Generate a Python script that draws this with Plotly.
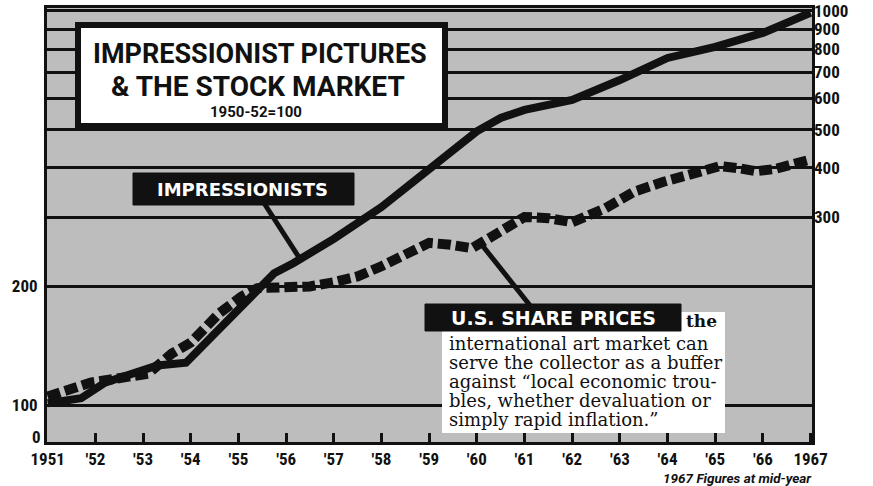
import plotly.graph_objects as go

# ---------------- data ----------------
imp_years = [1951.0, 1951.7, 1952.2, 1952.95, 1953.3, 1953.9, 1955.45, 1955.75,
             1956.15, 1957.0, 1958.0, 1959.0, 1960.0, 1960.5, 1961.0, 1962.0,
             1963.0, 1964.0, 1965.0, 1966.0, 1967.0]
imp_vals = [101, 104, 114, 123, 126, 128, 199, 216,
            229, 264, 318, 395, 495, 535, 561, 595,
            668, 760, 811, 880, 990]

us_years = [1951.0, 1951.5, 1951.9, 1952.7, 1953.1, 1953.6, 1954.0, 1954.6,
            1955.05, 1955.4, 1956.0, 1956.5, 1957.0, 1957.5, 1958.0, 1958.5,
            1959.0, 1959.45, 1959.9, 1960.3, 1961.0, 1961.5, 1962.0, 1962.7,
            1963.3, 1963.9, 1964.3, 1964.7, 1965.1, 1965.5, 1965.85, 1966.25,
            1966.7, 1967.0]
us_vals = [105, 110, 114, 118, 120, 135, 144, 171,
           188, 198, 198, 200, 205, 212, 225, 240,
           258, 255, 250, 267, 300, 298, 291, 316,
           348, 368, 379, 395, 404, 399, 392, 397,
           411, 420]

year_ticks = list(range(1951, 1968))
year_labels = ["1951"] + ["'" + str(y)[2:] for y in range(1952, 1967)] + ["1967"]

left_ticks = [100, 200]
right_ticks = [300, 400, 500, 600, 700, 800, 900, 1000]
right_labels = ["300", "400", "500", "600", "700", "800", "900", "1000"]
grid_vals = [100, 200, 300, 400, 500, 600, 700, 800, 900, 1000]
zero_label = "0"

title_lines = ["IMPRESSIONIST PICTURES", "&amp; THE STOCK MARKET"]
subtitle = "1950-52=100"
label_imp = "IMPRESSIONISTS"
label_us = "U.S. SHARE PRICES"
clip_first = "the"
clip_lines = ["international art market can",
              "serve the collector as a buffer",
              "against \u201clocal economic trou-",
              "bles, whether devaluation or",
              "simply rapid inflation.\u201d"]
note = "1967 Figures at mid-year"

# ---------------- layout geometry ----------------
W, H = 873, 486
PL, PR, PT, PB = 47, 812, 8, 442
Y_LO, Y_HI = 1.9061, 3.0076          # log10 range
X_LO, X_HI = 1950.985, 1967.03


def fx(x):
    return (x - PL) / (PR - PL)


def fy(y):
    return (PB - y) / (PB - PT)


INK = "#111111"
BG = "#bdbdbd"
COND = "Liberation Sans Narrow, Roboto Condensed, Roboto, sans-serif"
SANS = "DejaVu Sans, Verdana, sans-serif"
SERIF = "DejaVu Serif, serif"

fig = go.Figure()
fig.add_trace(go.Scatter(x=us_years, y=us_vals, mode="lines", yaxis="y",
                         line=dict(color=INK, width=10, dash="13px,5px"),
                         name="U.S. share prices", hoverinfo="skip"))
fig.add_trace(go.Scatter(x=imp_years, y=imp_vals, mode="lines", yaxis="y2",
                         line=dict(color=INK, width=8),
                         name="Impressionists", hoverinfo="skip"))

tickfont = dict(family=COND, size=17, color=INK, weight="bold")

fig.update_layout(
    width=W, height=H,
    margin=dict(l=PL, r=W - PR, t=PT, b=H - PB, pad=0, autoexpand=False),
    paper_bgcolor="white", plot_bgcolor=BG,
    showlegend=False,
    xaxis=dict(range=[X_LO, X_HI], tickvals=year_ticks, ticktext=year_labels,
               ticks="inside", ticklen=9, tickwidth=2.5, tickcolor=INK,
               showgrid=False, zeroline=False, automargin=False,
               showline=True, linewidth=3, linecolor=INK, mirror=True,
               tickfont=tickfont, ticklabelstandoff=0),
    yaxis=dict(type="log", range=[Y_LO, Y_HI], automargin=False,
               tickvals=grid_vals,
               ticktext=[str(v) if v in left_ticks else "" for v in grid_vals],
               showgrid=True, gridcolor=INK, gridwidth=3, ticks="",
               showline=True, linewidth=3, linecolor=INK, mirror=True,
               zeroline=False, tickfont=tickfont, ticklabelstandoff=3),
    yaxis2=dict(type="log", range=[Y_LO, Y_HI], overlaying="y", side="right",
                tickvals=right_ticks, ticktext=right_labels, automargin=False,
                showgrid=False, ticks="", showline=False, zeroline=False,
                tickfont=tickfont, ticklabelstandoff=1),
)

shapes = []
annotations = []

# "0" at the foot of the broken scale
annotations.append(dict(xref="paper", yref="paper", x=fx(43), y=fy(437),
                        text=zero_label, showarrow=False,
                        xanchor="right", yanchor="middle", font=tickfont))

# title box
shapes.append(dict(type="rect", xref="paper", yref="paper", layer="above",
                   x0=fx(78), x1=fx(445), y0=fy(126), y1=fy(25),
                   fillcolor="white", line=dict(color=INK, width=6)))
annotations.append(dict(xref="paper", yref="paper", x=fx(260), y=fy(54),
                        text=title_lines[0], showarrow=False,
                        xanchor="center", yanchor="middle",
                        font=dict(family="Roboto", size=27, color=INK, weight="bold")))
annotations.append(dict(xref="paper", yref="paper", x=fx(258), y=fy(86),
                        text=title_lines[1], showarrow=False,
                        xanchor="center", yanchor="middle",
                        font=dict(family="Roboto", size=28, color=INK, weight="bold")))
annotations.append(dict(xref="paper", yref="paper", x=fx(256), y=fy(112),
                        text=subtitle, showarrow=False,
                        xanchor="center", yanchor="middle",
                        font=dict(family="Roboto", size=15, color=INK, weight="bold")))

# IMPRESSIONISTS label + pointer
shapes.append(dict(type="line", xref="paper", yref="paper", layer="above",
                   x0=fx(262), y0=fy(200), x1=fx(302), y1=fy(262),
                   line=dict(color=INK, width=5)))
shapes.append(dict(type="rect", xref="paper", yref="paper", layer="above",
                   x0=fx(133), x1=fx(354), y0=fy(205), y1=fy(173),
                   fillcolor=INK, line=dict(color=INK, width=1)))
annotations.append(dict(xref="paper", yref="paper", x=fx(243), y=fy(189),
                        text=label_imp, showarrow=False,
                        xanchor="center", yanchor="middle",
                        font=dict(family=SANS, size=18, color="white", weight="bold")))

# U.S. SHARE PRICES pointer, clipping box, label
shapes.append(dict(type="line", xref="paper", yref="paper", layer="above",
                   x0=fx(478), y0=fy(240), x1=fx(532), y1=fy(308),
                   line=dict(color=INK, width=5)))
shapes.append(dict(type="rect", xref="paper", yref="paper", layer="above",
                   x0=fx(442), x1=fx(725), y0=fy(433), y1=fy(312),
                   fillcolor="white", line=dict(color="white", width=0)))
shapes.append(dict(type="rect", xref="paper", yref="paper", layer="above",
                   x0=fx(425), x1=fx(681), y0=fy(331), y1=fy(304),
                   fillcolor=INK, line=dict(color=INK, width=1)))
annotations.append(dict(xref="paper", yref="paper", x=fx(553), y=fy(318),
                        text=label_us, showarrow=False,
                        xanchor="center", yanchor="middle",
                        font=dict(family=SANS, size=19, color="white", weight="bold")))
annotations.append(dict(xref="paper", yref="paper", x=fx(684), y=fy(321),
                        text=clip_first, showarrow=False,
                        xanchor="left", yanchor="middle",
                        font=dict(family=SERIF, size=17, color=INK, weight="bold")))
for i, line in enumerate(clip_lines):
    annotations.append(dict(xref="paper", yref="paper", x=fx(447), y=fy(343 + 19 * i),
                            text=line, showarrow=False,
                            xanchor="left", yanchor="middle",
                            font=dict(family=SERIF, size=18, color=INK)))

# note under the axis
annotations.append(dict(xref="paper", yref="paper", x=fx(814), y=fy(478),
                        text=note, showarrow=False,
                        xanchor="right", yanchor="middle",
                        font=dict(family="Roboto", size=13.5, color=INK,
                                  weight="bold", style="italic")))

fig.update_layout(shapes=shapes, annotations=annotations)
fig.write_html("out.html",
               config={"displayModeBar": False},
               post_script="document.body.style.margin='0px';"
                           "document.documentElement.style.overflow='hidden';")
